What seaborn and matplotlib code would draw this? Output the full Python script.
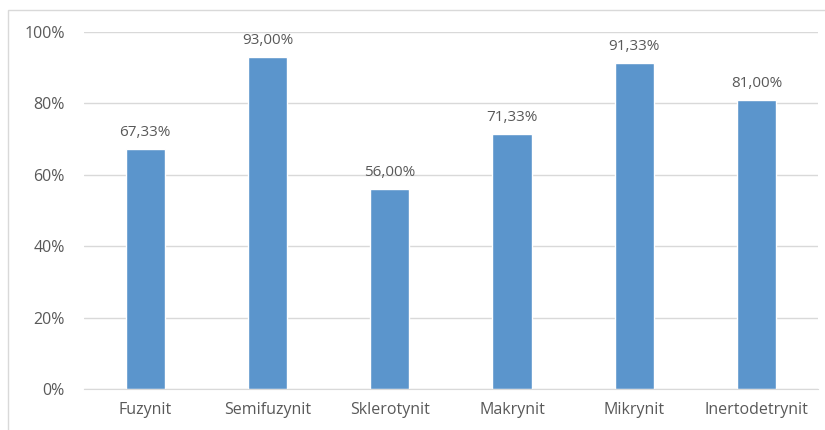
import matplotlib
matplotlib.use("Agg")
import matplotlib.pyplot as plt
import seaborn as sns
import pandas as pd
from matplotlib.patches import Rectangle

categories = ["Fuzynit", "Semifuzynit", "Sklerotynit", "Makrynit", "Mikrynit", "Inertodetrynit"]
values = [67.33, 93.00, 56.00, 71.33, 91.33, 81.00]
yticks = [0, 20, 40, 60, 80, 100]

sns.set_style("white")
plt.rcParams['font.family'] = ['Open Sans', 'DejaVu Sans']

df = pd.DataFrame({"cat": categories, "val": values})

fig = plt.figure(figsize=(8.25, 4.3), dpi=100)
ax = fig.add_axes([0.102, 0.0953, 0.889, 0.8303])
sns.barplot(data=df, x="cat", y="val", color="#5B95CC", width=0.32, ax=ax, saturation=1)

ax.set_ylim(0, 100)
ax.set_yticks(yticks)
ax.set_yticklabels([f"{t}%" for t in yticks], color="#595959", fontsize=11.5)
ax.set_xticklabels(categories, color="#595959", fontsize=11.5)
ax.set_xlabel("")
ax.set_ylabel("")
ax.yaxis.grid(True, color="#D9D9D9", linewidth=1)
ax.set_axisbelow(True)
for s in ["top", "right", "left"]:
    ax.spines[s].set_visible(False)
ax.spines["bottom"].set_color("#D9D9D9")
ax.tick_params(axis="y", length=0, pad=14)
ax.tick_params(axis="x", length=0, pad=9)

for i, v in enumerate(values):
    ax.text(i, v + 2.5, f"{v:.2f}".replace(".", ",") + "%", ha="center", va="bottom",
            color="#595959", fontsize=11)

fig.patches.append(Rectangle((8/825, -0.05), 1.2, 1 - 10/430 + 0.05, transform=fig.transFigure,
                             fill=False, edgecolor="#D9D9D9", linewidth=1))

fig.savefig("out.png", dpi=100)
